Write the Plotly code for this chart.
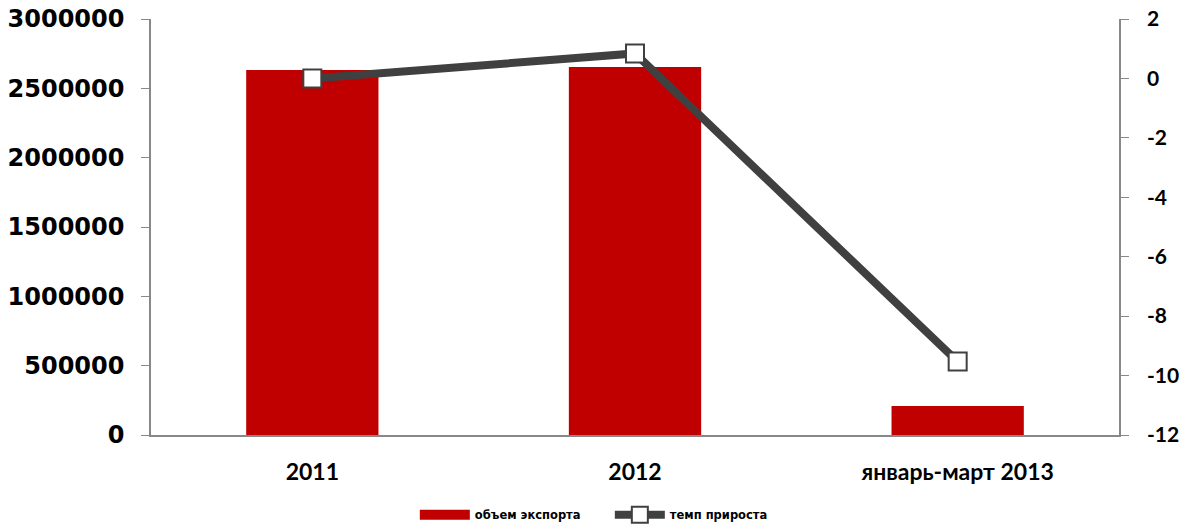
import plotly.graph_objects as go

categories = ["2011", "2012", "январь-март 2013"]
export_volume = [2632000, 2654000, 209000]
growth_rate = [0.0, 0.84, -9.53]
left_ticks = [0, 500000, 1000000, 1500000, 2000000, 2500000, 3000000]
right_ticks = [-12, -10, -8, -6, -4, -2, 0, 2]

RED = "#C00000"
DARK = "#404040"

fig = go.Figure()
fig.add_trace(go.Bar(
    x=categories, y=export_volume, name="объем экспорта", showlegend=False,
    marker=dict(color=RED, line=dict(width=0)), width=0.41, yaxis="y"))
# legend entry for bars (wide swatch)
fig.add_trace(go.Scatter(
    x=[None], y=[None], name="объем экспорта", mode="lines",
    line=dict(color=RED, width=10), yaxis="y", legendrank=1))
fig.add_trace(go.Scatter(
    x=categories, y=growth_rate, name="темп прироста", mode="lines+markers",
    line=dict(color=DARK, width=8),
    marker=dict(symbol="square", size=18, color="white", line=dict(color=DARK, width=2)),
    yaxis="y2", legendrank=2))

fig.update_layout(
    width=1188, height=526,
    margin=dict(l=151, r=69, t=19, b=91, autoexpand=False),
    plot_bgcolor="white", paper_bgcolor="white",
    showlegend=True,
    legend=dict(orientation="h", x=0.474, xanchor="center", y=-0.192, yanchor="middle",
                font=dict(family="DejaVu Sans", size=11.5, color="black", weight="bold"),
                itemwidth=50, tracegroupgap=0, entrywidth=130),
    xaxis=dict(showline=True, linecolor="#888888", linewidth=1.5, ticks="", automargin=False,
               ticklabelstandoff=16,
               tickfont=dict(family="Lato", size=23, color="black", weight="bold")),
    yaxis=dict(range=[0, 3000000], tickvals=left_ticks,
               ticktext=[str(v) for v in left_ticks], automargin=False,
               showgrid=False, zeroline=False, showline=True, linecolor="#888888", linewidth=1.5,
               ticks="outside", ticklen=8, tickcolor="#888888", ticklabelstandoff=12,
               tickfont=dict(family="DejaVu Sans", size=24, color="black", weight="bold")),
    yaxis2=dict(range=[-12, 2], tickvals=right_ticks, ticktext=[str(v) for v in right_ticks],
                overlaying="y", side="right", automargin=False,
                showgrid=False, zeroline=False, showline=True, linecolor="#888888", linewidth=1.5,
                ticks="outside", ticklen=8, tickcolor="#888888", ticklabelstandoff=14,
                tickfont=dict(family="Lato", size=21, color="black", weight="bold")),
)
fig.write_html("out.html", config={"displayModeBar": False},
               post_script="document.body.style.margin='0px';")
